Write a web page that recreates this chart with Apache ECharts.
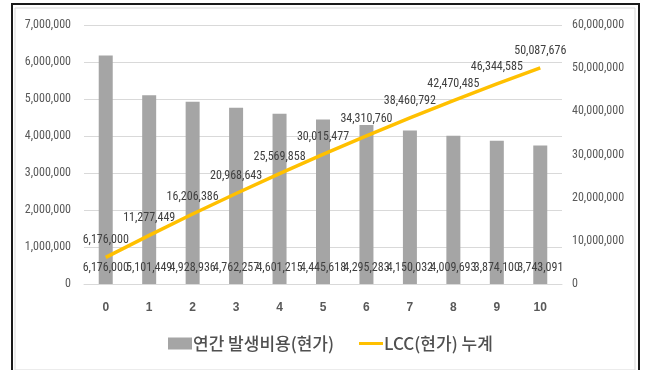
<!DOCTYPE html>
<html><head><meta charset="utf-8">
<script src="https://cdn.jsdelivr.net/npm/echarts@6/dist/echarts.min.js"></script>
<style>html,body{margin:0;padding:0;background:#fff}#c{width:645px;height:370px}</style>
</head><body><div id="c"></div>
<script>
const categories = ['0','1','2','3','4','5','6','7','8','9','10'];
const annualCost = [6176000, 5101449, 4928936, 4762257, 4601215, 4445618, 4295283, 4150032, 4009693, 3874100, 3743091];
const lccCumulative = [6176000, 11277449, 16206386, 20968643, 25569858, 30015477, 34310760, 38460792, 42470485, 46344585, 50087676];
const barName = '연간 발생비용(현가)';
const lineName = 'LCC(현가) 누계';

const numFont = "'Liberation Sans Narrow','Roboto Condensed','Arial Narrow','DejaVu Sans Condensed',sans-serif";
const krFont = "'Noto Sans CJK KR',sans-serif";
const fmt = v => Number(v).toLocaleString('en-US');
const chart = echarts.init(document.getElementById('c'));
chart.setOption({
  animation: false,
  backgroundColor: '#fff',
  graphic: [
    {type:'rect', shape:{x:15, y:8, width:620, height:362}, style:{fill:'none', stroke:'#d9d9d9', lineWidth:1}, z:-1},
    {type:'rect', shape:{x:12, y:4, width:627, height:380}, style:{fill:'none', stroke:'#1a1a1a', lineWidth:2}, z:-1}
  ],
  grid: {left: 84, right: 83, top: 25, bottom: 86},
  legend: [
    {left: 163, top: 330, itemWidth: 24, itemHeight: 12, itemGap: 0,
     textStyle: {fontSize: 17, fontWeight: 500, color: '#505050', fontFamily: krFont, padding:[0,0,0,-4]},
     data: [{name: barName, icon: 'rect'}]},
    {left: 354, top: 330, itemWidth: 24, itemHeight: 3, itemGap: 0,
     textStyle: {fontSize: 17, fontWeight: 500, color: '#505050', fontFamily: krFont, padding:[0,0,0,-4]},
     data: [{name: lineName, icon: 'rect'}]}
  ],
  xAxis: {
    type: 'category', data: categories,
    axisLine: {lineStyle: {color: '#d9d9d9'}}, axisTick: {show: false},
    axisLabel: {color: '#595959', fontSize: 12, fontWeight: 'bold', margin: 18, fontFamily: "'Liberation Sans',sans-serif"}
  },
  yAxis: [
    {type: 'value', min: 0, max: 7000000, interval: 1000000,
     axisLine: {show: false}, axisTick: {show: false},
     splitLine: {lineStyle: {color: '#d9d9d9'}},
     axisLabel: {color: '#595959', fontSize: 12, margin: 13, fontFamily: numFont, formatter: fmt}},
    {type: 'value', min: 0, max: 60000000, interval: 10000000,
     axisLine: {show: false}, axisTick: {show: false}, splitLine: {show: false},
     axisLabel: {color: '#595959', fontSize: 12, margin: 10, fontFamily: numFont, formatter: fmt}}
  ],
  series: [
    {name: barName, type: 'bar', data: annualCost, barWidth: 14, yAxisIndex: 0,
     itemStyle: {color: '#a5a5a5'},
     label: {show: true, position: 'insideBottom', distance: 10, color: '#404040', fontSize: 12, fontFamily: numFont, formatter: p => fmt(p.value)}},
    {name: lineName, type: 'line', data: lccCumulative, yAxisIndex: 1,
     symbol: 'circle', symbolSize: 0, showSymbol: true,
     lineStyle: {color: '#FFC000', width: 3.5}, itemStyle: {color: '#FFC000'},
     label: {show: true, position: 'top', distance: 11, color: '#404040', fontSize: 12, fontFamily: numFont, formatter: p => fmt(p.value)}}
  ]
});
</script></body></html>
